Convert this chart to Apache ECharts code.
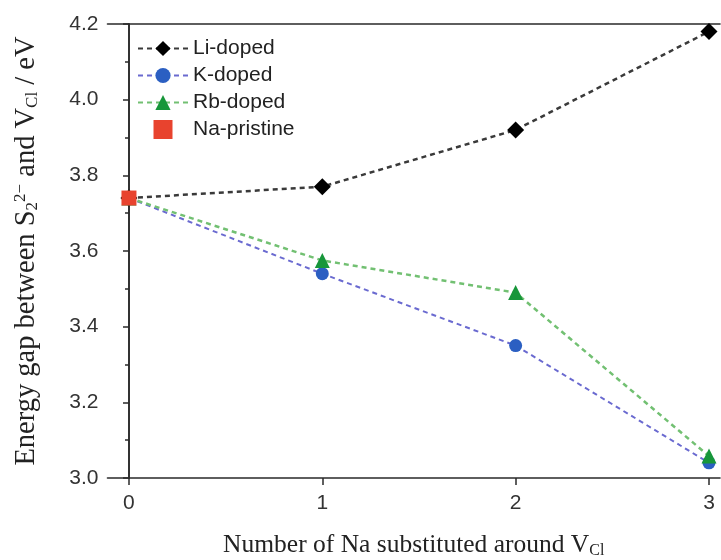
<!DOCTYPE html>
<html>
<head>
<meta charset="utf-8">
<script src="https://cdn.jsdelivr.net/npm/echarts@6/dist/echarts.min.js"></script>
<style>html,body{margin:0;padding:0;background:#fff}#c{width:721px;height:560px}</style>
</head>
<body>
<div id="c"></div>
<script>
const xValues = [0, 1, 2, 3];
const liDoped = [3.74, 3.77, 3.92, 4.18];
const kDoped = [3.74, 3.54, 3.35, 3.04];
const rbDoped = [3.74, 3.575, 3.49, 3.058];
const naPristine = [[0, 3.74]];
const seriesNames = ['Li-doped', 'K-doped', 'Rb-doped', 'Na-pristine'];
const xTicks = [0, 1, 2, 3];

const pairs = arr => xValues.map((x, i) => [x, arr[i]]);
const chart = echarts.init(document.getElementById('c'), null, {renderer: 'canvas'});
const axisColor = '#2a2a2a';
const serif = '"Liberation Serif", "DejaVu Serif", serif';
const sans = '"Liberation Sans", Arial, sans-serif';

chart.setOption({
  backgroundColor: '#fff',
  animation: false,
  grid: {left: 107.5, top: 24, right: 1, bottom: 82, outerBoundsMode: 'none', containLabel: false},
  legend: {
    orient: 'vertical', left: 132, top: 33, itemWidth: 50, itemHeight: 19, itemGap: 6,
    textStyle: {fontFamily: sans, fontSize: 21, color: '#222'},
    data: [
      {name: seriesNames[0]},
      {name: seriesNames[1]},
      {name: seriesNames[2]},
      {name: seriesNames[3], icon: 'path://M0,0L10,0L10,10L0,10Z'}
    ]
  },
  xAxis: [{
    type: 'value', min: -0.111, max: 3.057, position: 'bottom',
    splitLine: {show: false},
    axisLine: {lineStyle: {color: axisColor, width: 1.6}},
    axisTick: {customValues: xTicks, length: 7, lineStyle: {color: axisColor, width: 1.5}},
    axisLabel: {customValues: xTicks, margin: 15, fontFamily: sans, fontSize: 21, color: '#333'},
    name: 'Number of Na substituted around V{sub|Cl}',
    nameLocation: 'middle', nameGap: 53,
    nameTextStyle: {fontFamily: serif, fontSize: 25.5, color: '#222',
      rich: {sub: {fontFamily: serif, fontSize: 16, color: '#222', verticalAlign: 'bottom', padding: [12, 0, 0, 0]}}}
  }, {
    type: 'value', min: -0.111, max: 3.057, position: 'top',
    axisLine: {show: true, onZero: false, lineStyle: {color: axisColor, width: 1.6}},
    axisTick: {show: false}, axisLabel: {show: false}, splitLine: {show: false}
  }],
  yAxis: [{
    type: 'value', min: 3.0, max: 4.2, interval: 0.2, position: 'left',
    splitLine: {show: false},
    axisLine: {show: true, lineStyle: {color: axisColor, width: 1.6}},
    axisTick: {length: 6, lineStyle: {color: axisColor, width: 1.5}},
    minorTick: {show: true, splitNumber: 2, length: 4, lineStyle: {color: axisColor, width: 1.5}},
    axisLabel: {formatter: v => v.toFixed(1), margin: 9, fontFamily: sans, fontSize: 21, color: '#333'},
    name: 'Energy gap between S{sub|2}{sup|2−} and V{sub|Cl} / eV',
    nameLocation: 'middle', nameGap: 66, nameRotate: 90,
    nameTextStyle: {fontFamily: serif, fontSize: 28.5, color: '#222',
      rich: {
        sub: {fontFamily: serif, fontSize: 17, color: '#222', verticalAlign: 'bottom', padding: [12, 0, 0, 0]},
        sup: {fontFamily: serif, fontSize: 17, color: '#222', verticalAlign: 'top', padding: [0, 0, 12, 0]}
      }}
  }, {
    type: 'value', min: 3.0, max: 4.2, interval: 0.2, position: 'right',
    splitLine: {show: false},
    axisLine: {show: true, lineStyle: {color: axisColor, width: 1.6}},
    axisTick: {inside: true, length: 6, lineStyle: {color: axisColor, width: 1.5}},
    minorTick: {show: true, splitNumber: 2, length: 4, lineStyle: {color: axisColor, width: 1.5}},
    axisLabel: {show: false}
  }],
  series: [
    {name: seriesNames[0], type: 'line', data: pairs(liDoped), symbol: 'diamond', symbolSize: 17,
      lineStyle: {color: '#3a3a3a', width: 2.5, type: [5, 4]}, itemStyle: {color: '#000'}, z: 3},
    {name: seriesNames[1], type: 'line', data: pairs(kDoped), symbol: 'circle', symbolSize: 13,
      lineStyle: {color: '#6a6ad0', width: 2, type: [5, 4]}, itemStyle: {color: '#2b5fc2'}, z: 3},
    {name: seriesNames[2], type: 'line', data: pairs(rbDoped), symbol: 'triangle', symbolSize: 15,
      lineStyle: {color: '#72c072', width: 2.5, type: [5, 4]}, itemStyle: {color: '#17963a'}, z: 4},
    {name: seriesNames[3], type: 'scatter', data: naPristine, symbol: 'rect', symbolSize: 15,
      itemStyle: {color: '#e8432e', opacity: 1}, z: 5}
  ]
});
</script>
</body>
</html>
